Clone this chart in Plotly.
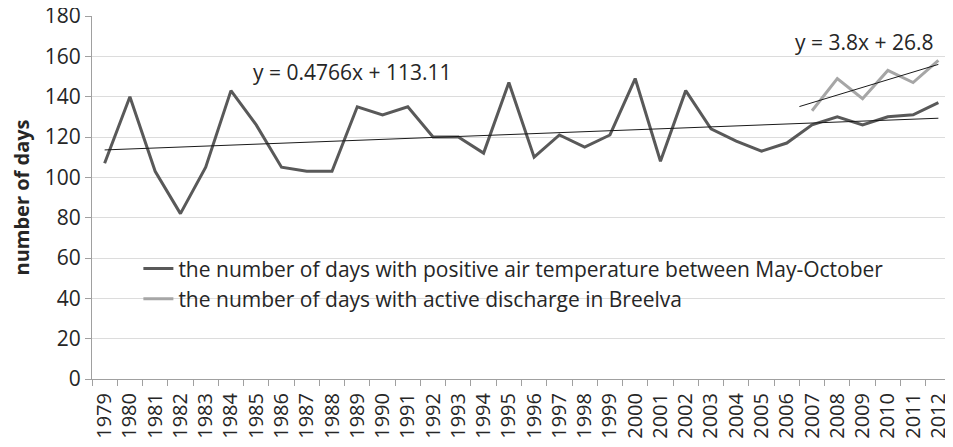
import plotly.graph_objects as go

YEARS = [str(y) for y in range(1979, 2013)]

# days with positive air temperature, May-October
POS_TEMP_DAYS = [107, 140, 103, 82, 105, 143, 126, 105, 103, 103,
                 135, 131, 135, 120, 120, 112, 147, 110, 121, 115,
                 121, 149, 108, 143, 124, 118, 113, 117, 126, 130,
                 126, 130, 131, 137]

# days with active discharge in Breelva (2007-2012)
DISCHARGE_YEARS = ["2007", "2008", "2009", "2010", "2011", "2012"]
DISCHARGE_DAYS = [133, 149, 139, 153, 147, 158]

# linear trend coefficients (x = year index, 1979 -> 1)
TREND1 = (0.4766, 113.11)
TREND2 = (3.8, 26.8)

DARK = "#595959"
LIGHT = "#a6a6a6"
GRID = "#dcdcdc"
AXIS = "#a0a0a0"
TEXT = "#262626"
FONT = "Open Sans, sans-serif"

fig = go.Figure()

fig.add_trace(go.Scatter(
    x=YEARS, y=POS_TEMP_DAYS, mode="lines",
    line=dict(color=DARK, width=3),
    name="the number of days with positive air temperature between May-October",
))
fig.add_trace(go.Scatter(
    x=DISCHARGE_YEARS, y=DISCHARGE_DAYS, mode="lines",
    line=dict(color=LIGHT, width=3),
    name="the number of days with active discharge in Breelva",
))

# trend lines on a hidden numeric axis aligned with the categories
t1x = [1, len(YEARS)]
t1y = [TREND1[0] * x + TREND1[1] for x in t1x]
t2x = [YEARS.index(DISCHARGE_YEARS[0]) + 0.5, len(YEARS)]
t2y = [TREND2[0] * x + TREND2[1] for x in t2x]
for tx, ty in ((t1x, t1y), (t2x, t2y)):
    fig.add_trace(go.Scatter(x=tx, y=ty, mode="lines", xaxis="x2",
                             line=dict(color="#1a1a1a", width=1), showlegend=False,
                             hoverinfo="skip"))

fig.add_annotation(x=10.8, y=152, xref="x2", yref="y", showarrow=False,
                   text="y = 0.4766x + 113.11", font=dict(size=21, color=TEXT))
fig.add_annotation(x=31.05, y=167, xref="x2", yref="y", showarrow=False,
                   text="y = 3.8x + 26.8", font=dict(size=21, color=TEXT))

# page body adds an 8px margin, so the figure is sized to fit the window
fig.update_layout(
    width=945, height=439,
    paper_bgcolor="white", plot_bgcolor="white",
    font=dict(family=FONT, color=TEXT, size=18),
    margin=dict(l=84, r=2, t=8, b=68),
    legend=dict(x=0.054, y=0.36, xanchor="left", yanchor="top",
                bgcolor="rgba(0,0,0,0)", font=dict(size=21, color=TEXT),
                itemwidth=30, tracegroupgap=0),
    xaxis=dict(type="category", range=[-0.5, len(YEARS) - 0.5],
               tickson="boundaries", ticks="outside", ticklen=6,
               tickcolor=AXIS, showline=True, linecolor=AXIS, showgrid=False,
               tickangle=-90, tickfont=dict(size=20, color=TEXT), automargin=False,
               ticklabeloverflow="allow", ticklabelstandoff=5),
    xaxis2=dict(overlaying="x", range=[0.5, len(YEARS) + 0.5], visible=False),
    yaxis=dict(range=[0, 180], dtick=20, ticks="outside", ticklen=6, tickcolor=AXIS,
               showline=True, linecolor=AXIS, gridcolor=GRID, zeroline=False,
               tickfont=dict(size=21, color=TEXT), automargin=False,
               ticklabeloverflow="allow",
               title=dict(text="<b>number of days</b>", font=dict(size=20, color=TEXT),
                          standoff=10)),
)

fig.write_html("out.html")
